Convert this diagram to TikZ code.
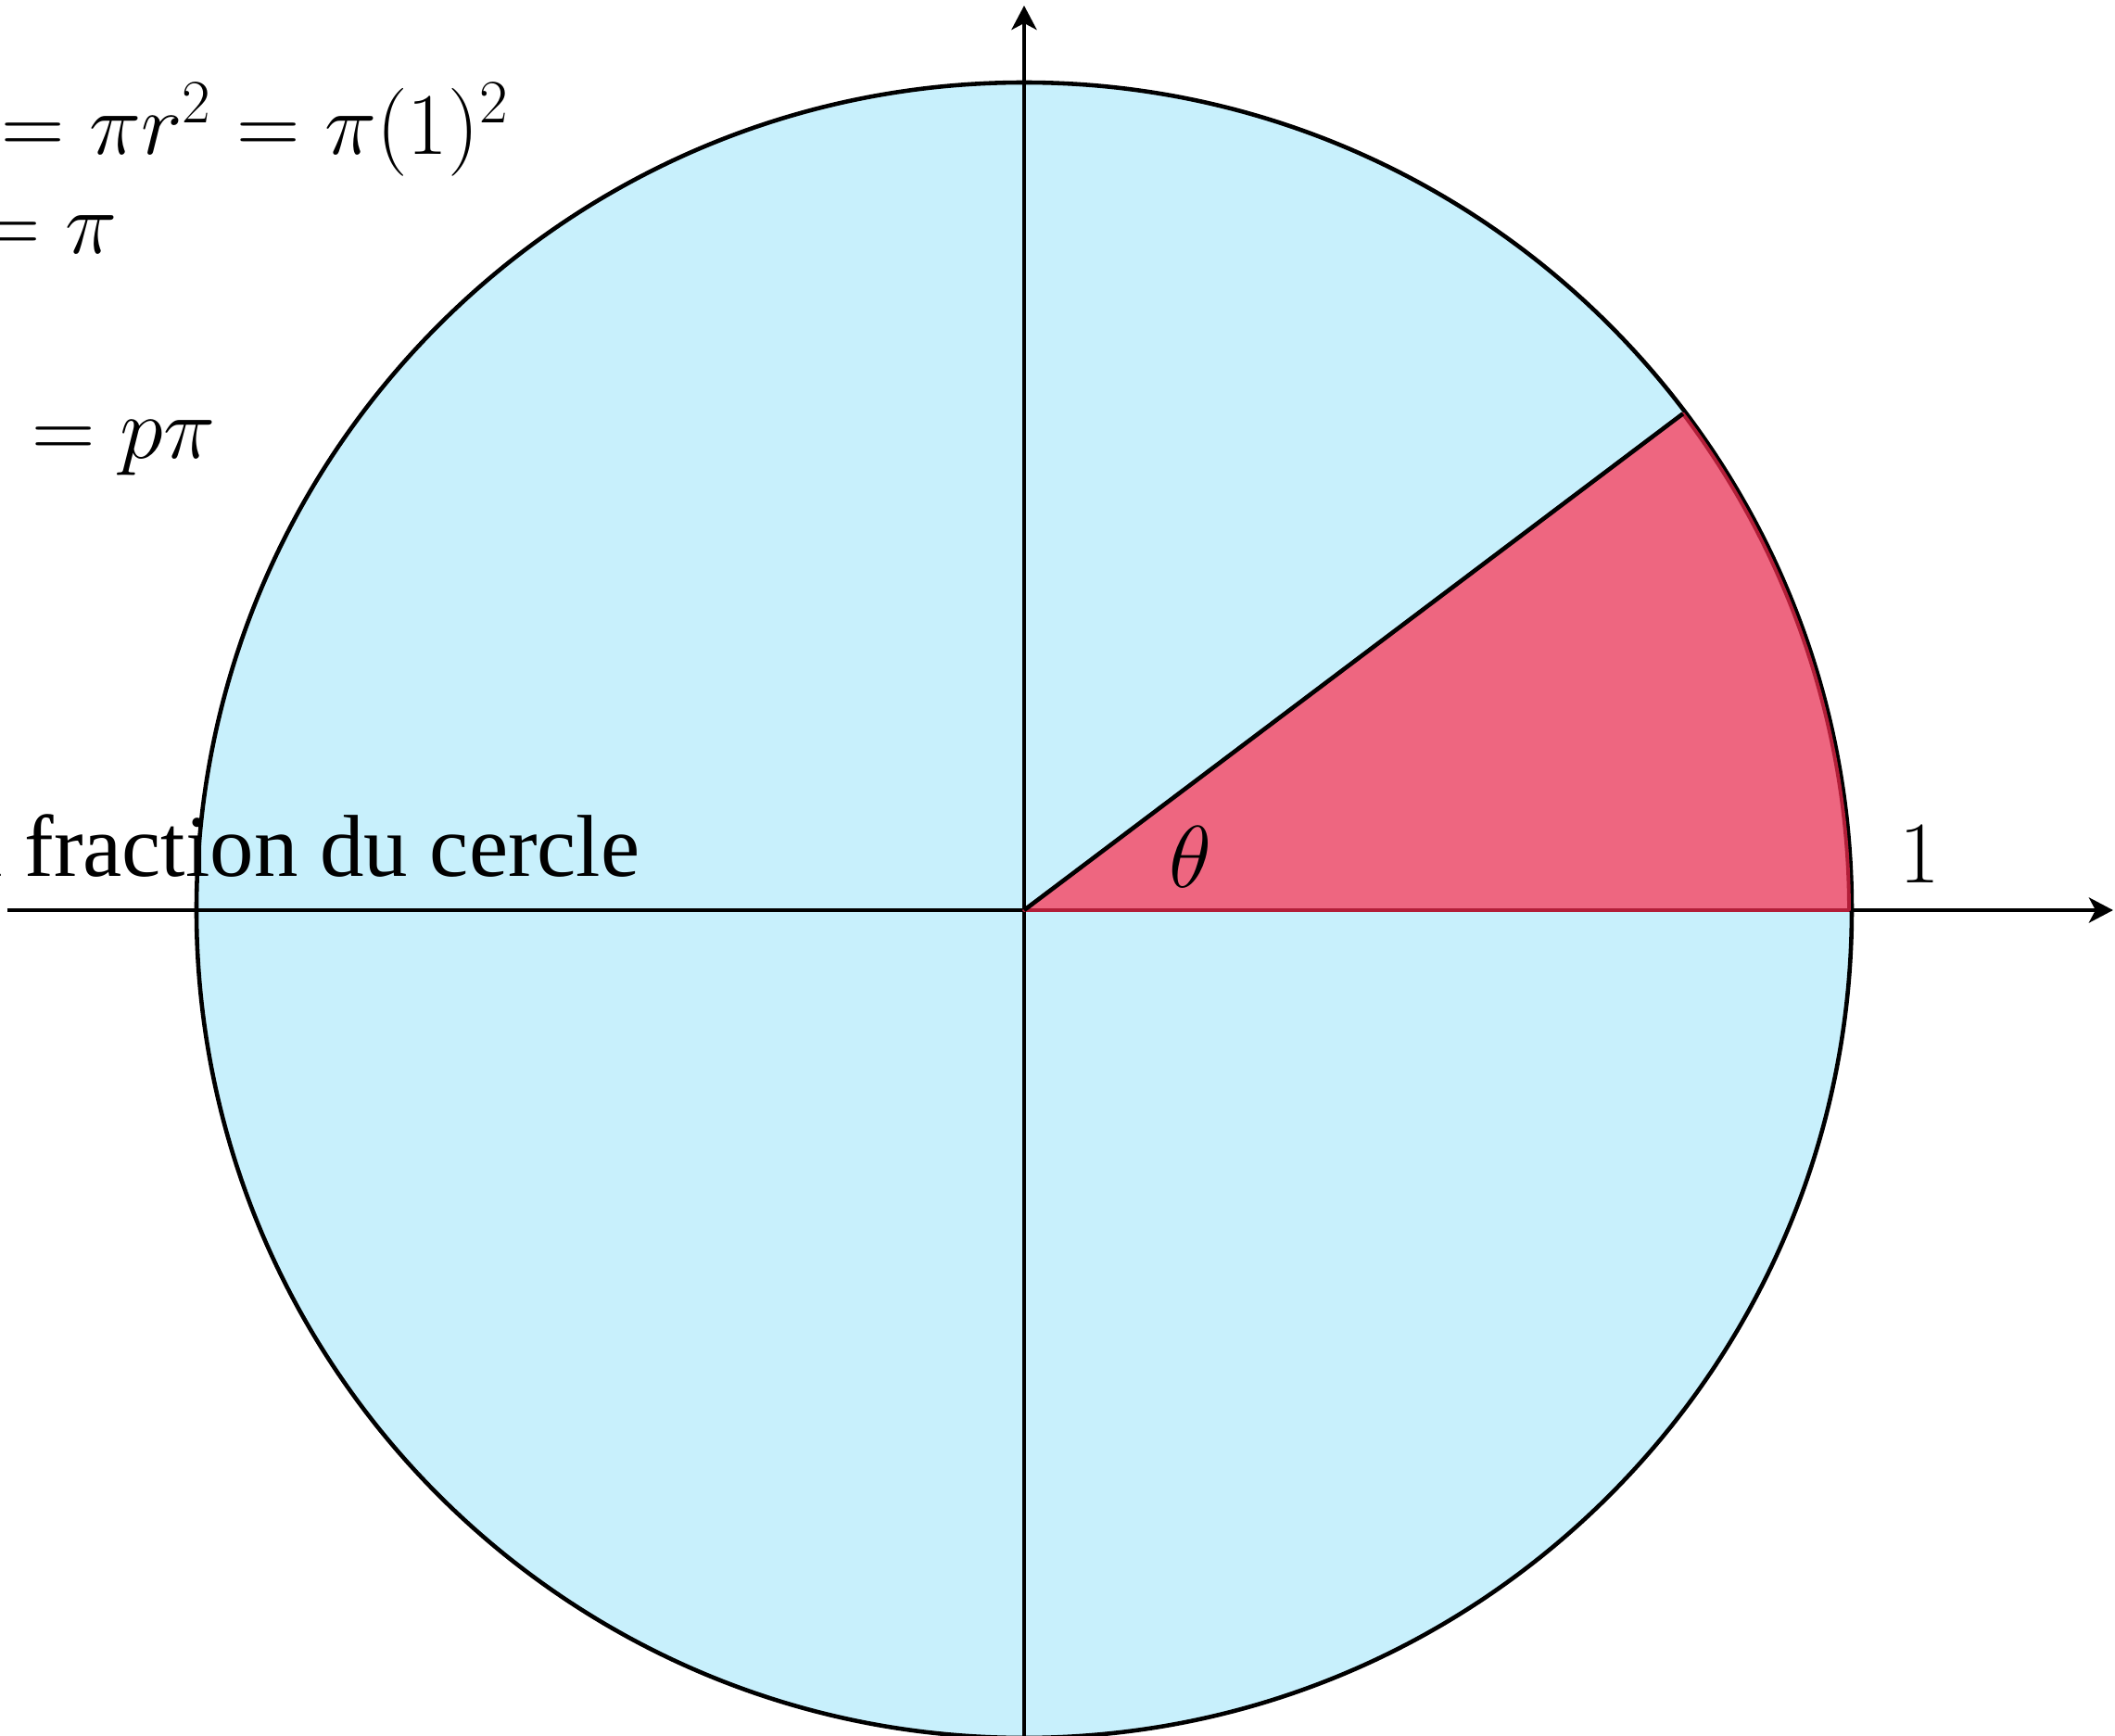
\RequirePackage{fix-cm}
\documentclass[tikz,border=0pt]{standalone}
\usepackage{fontspec}
\usepackage{amsmath}
\usepackage{tikz}
\usetikzlibrary{arrows.meta}
\newfontfamily\serifroman{Liberation Serif}
\definecolor{diskcolor}{RGB}{200,240,252}
\definecolor{sectorcolor}{RGB}{238,102,128}
\definecolor{sectoredge}{RGB}{178,30,56}

\begin{document}
\begin{tikzpicture}[
    axis/.style={line width=1.4pt, -{Stealth[length=0.26cm, width=0.27cm, inset=0.07cm]}},
    bigtext/.style={inner sep=0pt, font=\fontsize{27}{32}\selectfont},
  ]
    % Frame (cuts the text on the left)
    \path[use as bounding box, clip] (-11.05,-8.91) rectangle (11.77,9.82);

    \coordinate (O) at (0,0);
    \coordinate (xmin) at (-10.97,0);
    \coordinate (xmax) at (11.75,0);
    \coordinate (ymin) at (0,-9.1);
    \coordinate (ymax) at (0,9.76);
    \coordinate (A) at (8.9,0);
    \coordinate (P) at (37:8.9);

    % Unit disk
    \fill[diskcolor] (O) circle (8.93);
    \draw[line width=1.3pt] (O) circle (8.93);

    % Axes
    \draw[axis] (xmin) -- (xmax);
    \draw[axis] (ymin) -- (ymax);

    % Sector
    \draw[sectoredge, line width=1.1pt, fill=sectorcolor, line join=round]
        (O) -- (A) arc[start angle=0, end angle=37, radius=8.9] -- cycle;
    \draw[line width=1.3pt] (O) -- (P);

    % Formulas
    \node[bigtext, anchor=base east] (aire) at (-5.55,8.15) {$=\pi r^2=\pi(1)^2$};
    \node[bigtext, anchor=base east] (pi) at (-9.78,7.08) {$=\pi$};
    \node[bigtext, anchor=base east] (secteur) at (-8.72,4.87) {$=p\pi$};
    \node[bigtext, anchor=base east] (frac) at (-4.14,0.36) {\serifroman la fraction du cercle};

    % Labels
    \node[bigtext, anchor=base] (theta) at (1.79,0.24) {$\theta$};
    \node[bigtext, anchor=base] (un) at (9.66,0.29) {$1$};
\end{tikzpicture}
\end{document}
